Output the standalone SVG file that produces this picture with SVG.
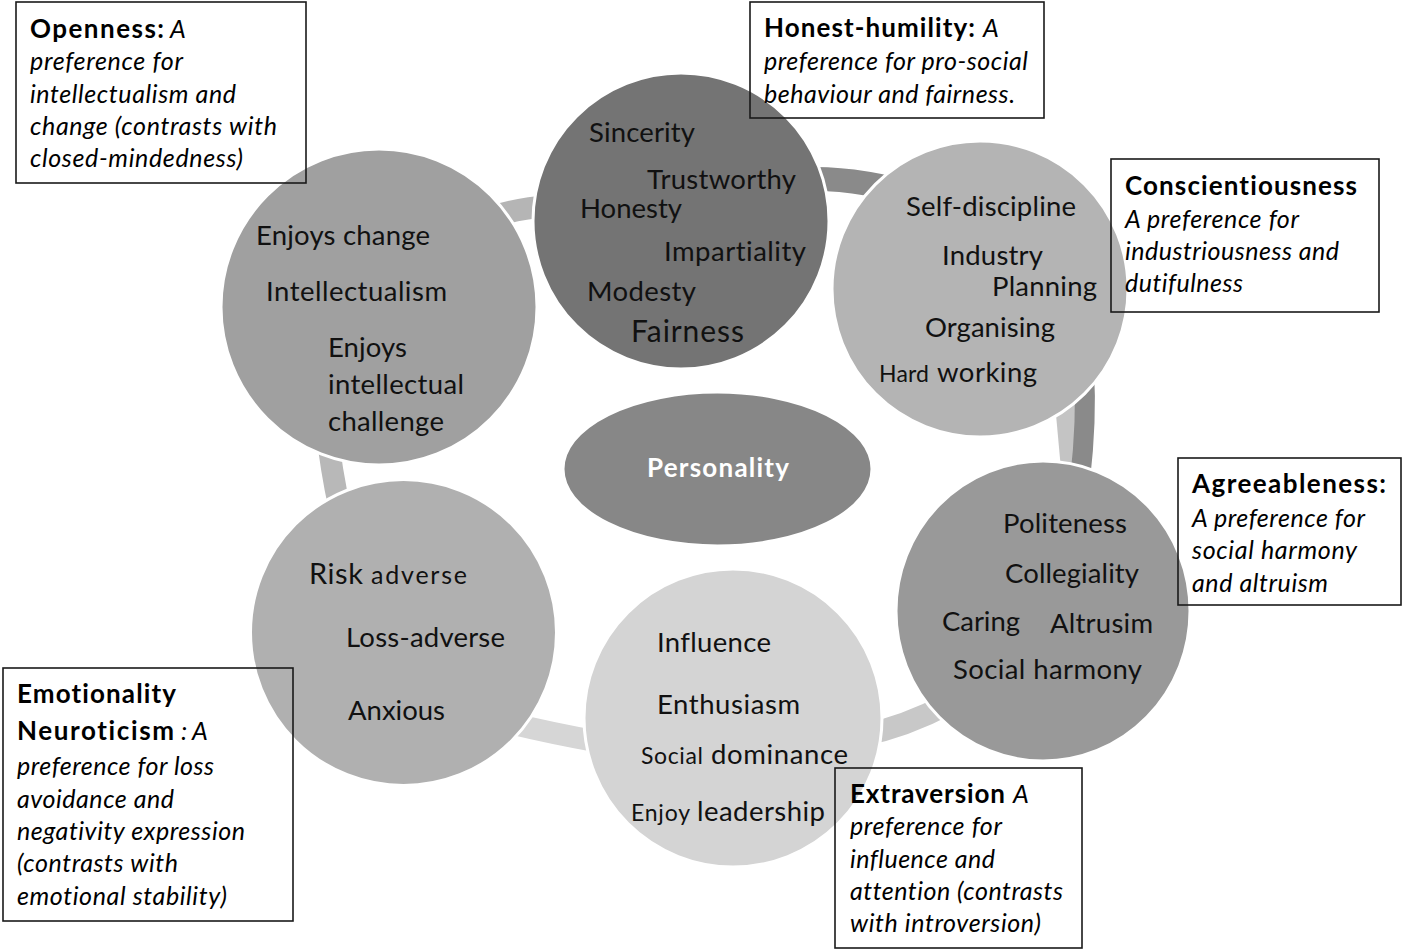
<svg xmlns="http://www.w3.org/2000/svg" width="1403" height="950" viewBox="0 0 1403 950">
<style>
.ring{fill:none;stroke-linecap:butt}
.node{stroke:#fff;stroke-width:3}
text{font-variant-ligatures:none}
.t{font-family:Lato,"Open Sans","Liberation Sans",sans-serif;fill:#111;font-size:27.5px}
.b{font-family:Lato,"Open Sans","Liberation Sans",sans-serif;fill:#000;font-size:26px;font-weight:bold}
.i{font-family:Lato,"Open Sans","Liberation Sans",sans-serif;fill:#000;font-size:25px;font-style:italic}
.box{fill:none;stroke:#1a1a1a;stroke-width:1.6}
</style>
<rect width="1403" height="950" fill="#fff"/>
<g id="connectors">
<path class="ring" d="M495 216 Q520 208 550 206" stroke="#b5b5b5" stroke-width="22"/>
<path class="ring" d="M810 179 Q860 178 925 197" stroke="#8a8a8a" stroke-width="24"/>
<path class="ring" d="M1062 370 L1072 480" stroke="#c4c4c4" stroke-width="20"/>
<path class="ring" d="M1084 370 Q1087 420 1080 480" stroke="#8a8a8a" stroke-width="20"/>
<path class="ring" d="M860 736 Q905 727 950 703" stroke="#c8c8c8" stroke-width="22"/>
<path class="ring" d="M505 722 Q550 733 600 742" stroke="#d6d6d6" stroke-width="22"/>
<path class="ring" d="M327 430 Q331 470 340 510" stroke="#b8b8b8" stroke-width="22"/>
</g>
<g id="openness">
<circle class="node" cx="379" cy="307" r="158" fill="#a0a0a0"/>
<text class="t" x="256" y="245" textLength="174">Enjoys change</text>
<text class="t" x="266" y="301" textLength="181">Intellectualism</text>
<text class="t" x="328" y="357" textLength="79">Enjoys</text>
<text class="t" x="328" y="394" textLength="136">intellectual</text>
<text class="t" x="328" y="431" textLength="116">challenge</text>
</g>
<g id="honesty">
<circle class="node" cx="681" cy="221" r="148" fill="#747474"/>
<text class="t" x="589" y="142" textLength="106">Sincerity</text>
<text class="t" x="647" y="189" textLength="149">Trustworthy</text>
<text class="t" x="580" y="218" textLength="102">Honesty</text>
<text class="t" x="664" y="261" textLength="142">Impartiality</text>
<text class="t" x="587" y="301" textLength="109">Modesty</text>
<text class="t" x="631" y="342" textLength="113" style="font-size:30px">Fairness</text>
</g>
<g id="conscientiousness">
<circle class="node" cx="980" cy="289" r="148" fill="#b4b4b4"/>
<text class="t" x="906" y="216" textLength="170">Self-discipline</text>
<text class="t" x="942" y="265" textLength="101">Industry</text>
<text class="t" x="992" y="296" textLength="105">Planning</text>
<text class="t" x="925" y="337" textLength="130">Organising</text>
<text class="t" x="879" y="382" textLength="50" style="font-size:23px">Hard</text>
<text class="t" x="937" y="382" textLength="100">working</text>
</g>
<g id="agreeableness">
<ellipse class="node" cx="1043" cy="611" rx="147" ry="150" fill="#999999"/>
<text class="t" x="1003" y="533" textLength="124">Politeness</text>
<text class="t" x="1005" y="583" textLength="134">Collegiality</text>
<text class="t" x="942" y="631" textLength="78">Caring</text>
<text class="t" x="1050" y="633" textLength="103">Altrusim</text>
<text class="t" x="953" y="679" textLength="189">Social harmony</text>
</g>
<g id="extraversion">
<circle class="node" cx="733" cy="718" r="149" fill="#d4d4d4"/>
<text class="t" x="657" y="652" textLength="114">Influence</text>
<text class="t" x="657" y="714" textLength="143">Enthusiasm</text>
<text class="t" x="641" y="764" textLength="62" style="font-size:23px">Social</text>
<text class="t" x="711" y="764" textLength="137">dominance</text>
<text class="t" x="631" y="821" textLength="59" style="font-size:23px">Enjoy</text>
<text class="t" x="697" y="821" textLength="128">leadership</text>
</g>
<g id="emotionality">
<circle class="node" cx="403.5" cy="632.5" r="153" fill="#b0b0b0"/>
<text class="t" x="309" y="584" textLength="54" style="font-size:29px">Risk</text>
<text class="t" x="371" y="584" textLength="96" style="font-size:25px">adverse</text>
<text class="t" x="346" y="647" textLength="159">Loss-adverse</text>
<text class="t" x="348" y="720" textLength="97">Anxious</text>
</g>
<g id="personality">
<ellipse class="node" cx="717.5" cy="469" rx="154.5" ry="77" fill="#878787" stroke-width="2"/>
<text x="647" y="477" textLength="142" style="font-family:Lato,'Open Sans','Liberation Sans',sans-serif;font-size:26px;font-weight:bold;fill:#fff">Personality</text>
</g>
<g id="box-openness">
<rect class="box" x="16" y="2" width="290" height="181"/>
<text class="b" x="30" y="38" textLength="134">Openness:</text>
<text class="i" x="170" y="38" textLength="16">A</text>
<text class="i" x="30" y="70" textLength="153">preference for</text>
<text class="i" x="30" y="103" textLength="206">intellectualism and</text>
<text class="i" x="30" y="135" textLength="247">change (contrasts with</text>
<text class="i" x="30" y="167" textLength="213">closed-mindedness)</text>
</g>
<g id="box-honesty">
<rect class="box" x="750" y="2" width="294" height="116"/>
<text class="b" x="764" y="37" textLength="211">Honest-humility:</text>
<text class="i" x="983" y="37" textLength="15">A</text>
<text class="i" x="764" y="70" textLength="264">preference for pro-social</text>
<text class="i" x="764" y="103" textLength="251">behaviour and fairness.</text>
</g>
<g id="box-conscientiousness">
<rect class="box" x="1111" y="159" width="268" height="153"/>
<text class="b" x="1125" y="195" textLength="232">Conscientiousness</text>
<text class="i" x="1125" y="228" textLength="174">A preference for</text>
<text class="i" x="1125" y="260" textLength="214">industriousness and</text>
<text class="i" x="1125" y="292" textLength="118">dutifulness</text>
</g>
<g id="box-agreeableness">
<rect class="box" x="1178" y="458" width="223" height="147"/>
<text class="b" x="1192" y="493" textLength="194">Agreeableness:</text>
<text class="i" x="1192" y="527" textLength="173">A preference for</text>
<text class="i" x="1192" y="559" textLength="165">social harmony</text>
<text class="i" x="1192" y="592" textLength="136">and altruism</text>
</g>
<g id="box-extraversion">
<rect class="box" x="835" y="768" width="247" height="180"/>
<text class="b" x="850" y="803" textLength="155">Extraversion</text>
<text class="i" x="1013" y="803" textLength="15">A</text>
<text class="i" x="850" y="835" textLength="152">preference for</text>
<text class="i" x="850" y="868" textLength="145">influence and</text>
<text class="i" x="850" y="900" textLength="213">attention (contrasts</text>
<text class="i" x="850" y="932" textLength="191">with introversion)</text>
</g>
<g id="box-emotionality">
<rect class="box" x="3" y="668" width="290" height="253"/>
<text class="b" x="17" y="703" textLength="159">Emotionality</text>
<text class="b" x="17" y="740" textLength="157">Neuroticism</text>
<text class="i" x="181" y="740" textLength="5">:</text>
<text class="i" x="192" y="740" textLength="15">A</text>
<text class="i" x="17" y="775" textLength="197">preference for loss</text>
<text class="i" x="17" y="808" textLength="157">avoidance and</text>
<text class="i" x="17" y="840" textLength="228">negativity expression</text>
<text class="i" x="17" y="872" textLength="161">(contrasts with</text>
<text class="i" x="17" y="905" textLength="210">emotional stability)</text>
</g>
</svg>
